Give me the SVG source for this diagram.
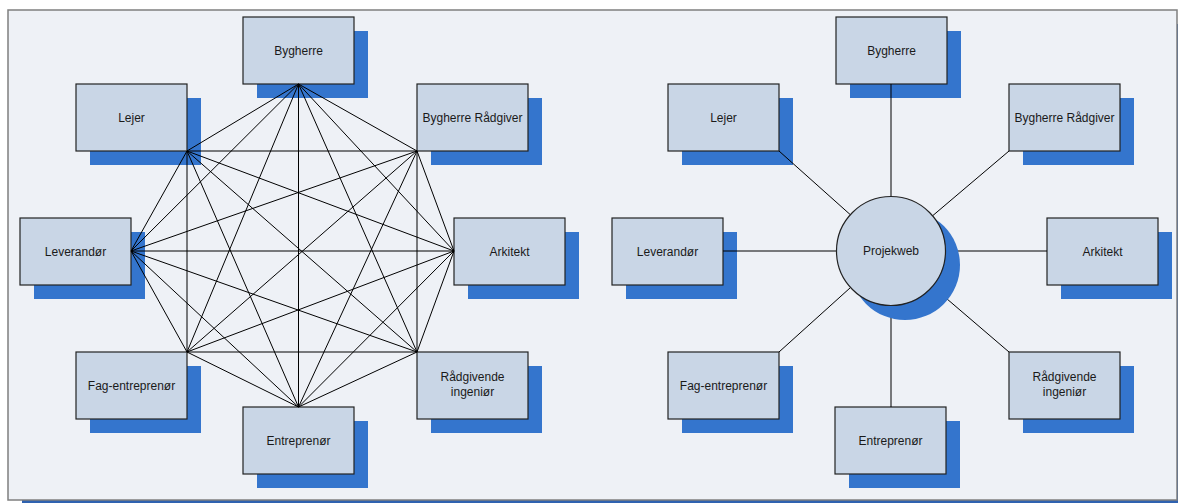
<svg xmlns="http://www.w3.org/2000/svg" width="1178" height="503" viewBox="0 0 1178 503">
<style>
.sh{fill:#3475cd}
.bx{fill:#c9d6e6;stroke:#222;stroke-width:1.2}
.t{font-family:"Liberation Sans",Arial,sans-serif;font-size:12px;fill:#1a1a1a;text-anchor:middle}
.c line{stroke:#000;stroke-width:1}
</style>
<defs>
<g id="nd"><rect class="sh" x="14" y="14" width="111" height="67"/><rect class="bx" x="0" y="0" width="111" height="67"/></g>
</defs>
<rect x="22" y="24" width="1169" height="490" fill="#2f62b0"/>
<rect x="8" y="10" width="1169" height="490" fill="#eef1f6" stroke="#7f7f7f" stroke-width="1.5"/>

<g id="L-bygherre"><use href="#nd" x="243" y="17"/><text class="t" x="298.5" y="55">Bygherre</text></g>
<g id="L-lejer"><use href="#nd" x="76" y="84"/><text class="t" x="131.5" y="122">Lejer</text></g>
<g id="L-bygherre-radgiver"><use href="#nd" x="417" y="84"/><text class="t" x="472.5" y="122">Bygherre Rådgiver</text></g>
<g id="L-leverandor"><use href="#nd" x="20" y="218"/><text class="t" x="75.5" y="256">Leverandør</text></g>
<g id="L-arkitekt"><use href="#nd" x="454" y="218"/><text class="t" x="509.5" y="256">Arkitekt</text></g>
<g id="L-fag"><use href="#nd" x="76" y="352"/><text class="t" x="131.5" y="390">Fag-entreprenør</text></g>
<g id="L-radgivende"><use href="#nd" x="417" y="352"/><text class="t" x="472.5" y="381">Rådgivende</text><text class="t" x="472.5" y="396">ingeniør</text></g>
<g id="L-entreprenor"><use href="#nd" x="243" y="407"/><text class="t" x="298.5" y="445">Entreprenør</text></g>

<g id="R-bygherre"><use href="#nd" x="836" y="17"/><text class="t" x="891.5" y="55">Bygherre</text></g>
<g id="R-lejer"><use href="#nd" x="668" y="84"/><text class="t" x="723.5" y="122">Lejer</text></g>
<g id="R-bygherre-radgiver"><use href="#nd" x="1009" y="84"/><text class="t" x="1064.5" y="122">Bygherre Rådgiver</text></g>
<g id="R-leverandor"><use href="#nd" x="612" y="218"/><text class="t" x="667.5" y="256">Leverandør</text></g>
<g id="R-arkitekt"><use href="#nd" x="1047" y="218"/><text class="t" x="1102.5" y="256">Arkitekt</text></g>
<g id="R-fag"><use href="#nd" x="668" y="352"/><text class="t" x="723.5" y="390">Fag-entreprenør</text></g>
<g id="R-radgivende"><use href="#nd" x="1009" y="352"/><text class="t" x="1064.5" y="381">Rådgivende</text><text class="t" x="1064.5" y="396">ingeniør</text></g>
<g id="R-entreprenor"><use href="#nd" x="835" y="407"/><text class="t" x="890.5" y="445">Entreprenør</text></g>

<g id="connectors" class="c">
<line x1="298.5" y1="84" x2="187" y2="151"/>
<line x1="298.5" y1="84" x2="417" y2="151"/>
<line x1="298.5" y1="84" x2="131" y2="251"/>
<line x1="298.5" y1="84" x2="454" y2="251"/>
<line x1="298.5" y1="84" x2="187" y2="352"/>
<line x1="298.5" y1="84" x2="417" y2="352"/>
<line x1="298.5" y1="84" x2="298.5" y2="407"/>
<line x1="187" y1="151" x2="417" y2="151"/>
<line x1="187" y1="151" x2="131" y2="251"/>
<line x1="187" y1="151" x2="454" y2="251"/>
<line x1="187" y1="151" x2="187" y2="352"/>
<line x1="187" y1="151" x2="417" y2="352"/>
<line x1="187" y1="151" x2="298.5" y2="407"/>
<line x1="417" y1="151" x2="131" y2="251"/>
<line x1="417" y1="151" x2="454" y2="251"/>
<line x1="417" y1="151" x2="187" y2="352"/>
<line x1="417" y1="151" x2="417" y2="352"/>
<line x1="417" y1="151" x2="298.5" y2="407"/>
<line x1="131" y1="251" x2="454" y2="251"/>
<line x1="131" y1="251" x2="187" y2="352"/>
<line x1="131" y1="251" x2="417" y2="352"/>
<line x1="131" y1="251" x2="298.5" y2="407"/>
<line x1="454" y1="251" x2="187" y2="352"/>
<line x1="454" y1="251" x2="417" y2="352"/>
<line x1="454" y1="251" x2="298.5" y2="407"/>
<line x1="187" y1="352" x2="417" y2="352"/>
<line x1="187" y1="352" x2="298.5" y2="407"/>
<line x1="417" y1="352" x2="298.5" y2="407"/>

<line x1="891" y1="84" x2="891" y2="251"/>
<line x1="779" y1="151" x2="891" y2="251"/>
<line x1="1009" y1="151" x2="891" y2="251"/>
<line x1="723" y1="251" x2="891" y2="251"/>
<line x1="1047" y1="251" x2="891" y2="251"/>
<line x1="779" y1="352" x2="891" y2="251"/>
<line x1="1009" y1="352" x2="891" y2="251"/>
<line x1="891" y1="407" x2="891" y2="251"/>
</g>

<g id="R-projekweb">
<circle class="sh" cx="905" cy="265" r="55"/>
<circle class="bx" cx="891" cy="251" r="54.5"/>
<text class="t" x="891" y="255">Projekweb</text>
</g>
</svg>
